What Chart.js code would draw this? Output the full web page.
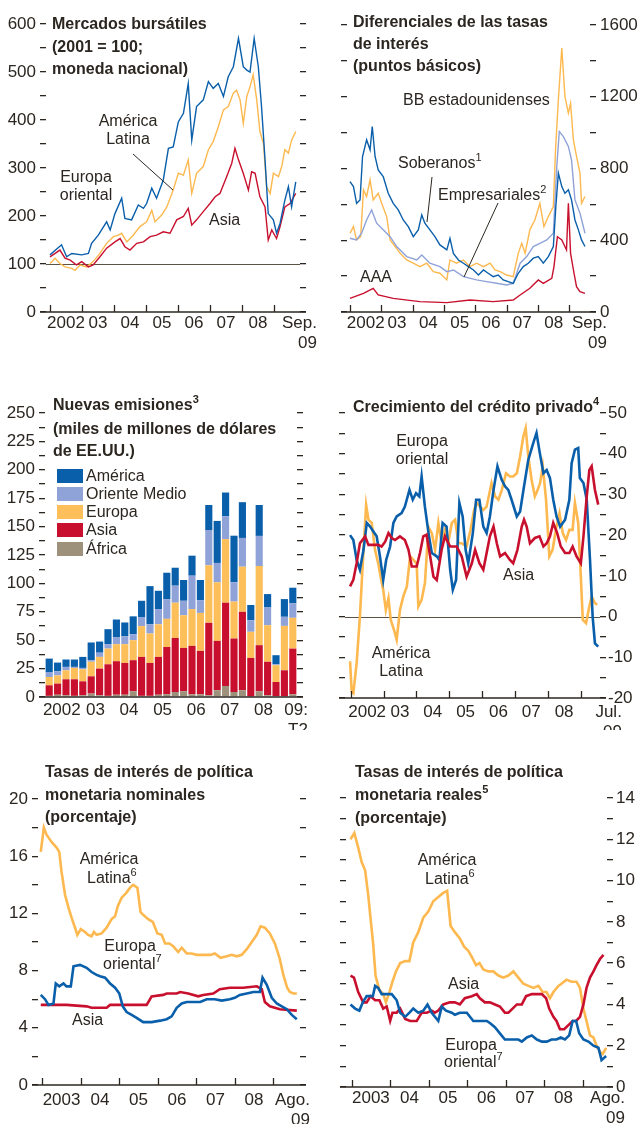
<!DOCTYPE html>
<html>
<head>
<meta charset="utf-8">
<script src="https://cdn.jsdelivr.net/npm/chart.js@4.4.1/dist/chart.umd.min.js"></script>
<style>
  body { margin: 0; background: #fff; width: 637px; height: 1124px; overflow: hidden; position: relative;
         font-family: "Liberation Sans", Arial, sans-serif; color: #2b2620; }
  canvas { position: absolute; }
  .ttl { position: absolute; white-space: nowrap; font-weight: bold; font-size: 16px; line-height: 22.5px; }
  .t { position: absolute; white-space: nowrap; font-size: 16px; line-height: 18px; }
  .c { text-align: center; transform: translateX(-50%); }
  sup { font-size: 11px; vertical-align: 0; position: relative; top: -7px; }
  .key { position: absolute; left: 57px; width: 26px; height: 14px; }
  svg { position: absolute; left: 0; top: 0; }
</style>
</head>
<body>
<canvas id="c1" width="320" height="360" style="left:0;top:0"></canvas>
<canvas id="c2" width="317" height="360" style="left:320px;top:0"></canvas>
<canvas id="c3" width="320" height="340" style="left:0;top:390px"></canvas>
<canvas id="c4" width="317" height="340" style="left:320px;top:390px"></canvas>
<canvas id="c5" width="320" height="369" style="left:0;top:755px"></canvas>
<canvas id="c6" width="317" height="369" style="left:320px;top:755px"></canvas>

<!-- titulos -->
<div class="ttl" style="left:52px;top:13px">Mercados bursátiles<br>(2001 = 100;<br>moneda nacional)</div>
<div class="ttl" style="left:353px;top:11px;line-height:22px">Diferenciales de las tasas<br>de interés<br>(puntos básicos)</div>
<div class="ttl" style="left:53px;top:394px">Nuevas emisiones<sup>3</sup><br>(miles de millones de dólares<br>de EE.UU.)</div>
<div class="ttl" style="left:353px;top:396px">Crecimiento del crédito privado<sup>4</sup></div>
<div class="ttl" style="left:45px;top:761px">Tasas de interés de política<br>monetaria nominales<br>(porcentaje)</div>
<div class="ttl" style="left:355px;top:761px">Tasas de interés de política<br>monetaria reales<sup>5</sup><br>(porcentaje)</div>

<!-- rotulos de series -->
<div class="t c" style="left:128px;top:112px">América<br>Latina</div>
<div class="t c" style="left:86px;top:168px">Europa<br>oriental</div>
<div class="t" style="left:209px;top:211px">Asia</div>

<div class="t" style="left:403px;top:91px">BB estadounidenses</div>
<div class="t" style="left:398px;top:154px">Soberanos<sup>1</sup></div>
<div class="t" style="left:438px;top:186px">Empresariales<sup>2</sup></div>
<div class="t" style="left:360px;top:268px">AAA</div>

<div class="t" style="left:86px;top:467px">América</div>
<div class="t" style="left:86px;top:485px">Oriente Medio</div>
<div class="t" style="left:86px;top:503px">Europa</div>
<div class="t" style="left:86px;top:521px">Asia</div>
<div class="t" style="left:86px;top:540px">África</div>
<div class="key" style="top:469px;background:#0a5fab"></div>
<div class="key" style="top:487px;background:#8fa3d8"></div>
<div class="key" style="top:505px;background:#fdbf5a"></div>
<div class="key" style="top:523px;background:#c8102e"></div>
<div class="key" style="top:542px;background:#9d917c"></div>

<div class="t c" style="left:422px;top:432px">Europa<br>oriental</div>
<div class="t" style="left:503px;top:566px">Asia</div>
<div class="t c" style="left:401px;top:644px">América<br>Latina</div>

<div class="t c" style="left:109px;top:850px">América</div>
<div class="t" style="left:87px;top:869px">Latina<sup>6</sup></div>
<div class="t c" style="left:130px;top:937px">Europa</div>
<div class="t" style="left:103px;top:955px">oriental<sup>7</sup></div>
<div class="t" style="left:72px;top:1011px">Asia</div>

<div class="t c" style="left:447px;top:851px">América</div>
<div class="t" style="left:425px;top:870px">Latina<sup>6</sup></div>
<div class="t" style="left:448px;top:975px">Asia</div>
<div class="t c" style="left:471px;top:1036px">Europa</div>
<div class="t" style="left:444px;top:1053px">oriental<sup>7</sup></div>

<svg width="637" height="400">
  <g stroke="#2b2620" stroke-width="1">
    <line x1="133" y1="154" x2="173" y2="190"/>
    <line x1="432" y1="177" x2="427" y2="222"/>
    <line x1="498" y1="203" x2="464" y2="277"/>
  </g>
</svg>

<script>
// ---------- datos: [fecha en años, valor] ----------
// Mercados bursátiles (2001 = 100)
const bolsaEuropa = [[2002.00,119],[2002.36,140],[2002.52,115],[2002.68,122],[2002.99,119],[2003.20,122],[2003.30,143],[2003.51,160],[2003.77,188],[2003.88,171],[2004.03,205],[2004.24,237],[2004.34,195],[2004.55,192],[2004.76,223],[2004.92,216],[2005.02,226],[2005.18,258],[2005.33,237],[2005.54,275],[2005.70,341],[2005.85,344],[2006.01,396],[2006.17,414],[2006.32,476],[2006.43,358],[2006.58,428],[2006.79,442],[2006.95,480],[2007.10,466],[2007.26,476],[2007.42,449],[2007.57,490],[2007.73,511],[2007.89,570],[2008.04,511],[2008.15,504],[2008.25,500],[2008.38,570],[2008.51,511],[2008.61,428],[2008.72,317],[2008.82,205],[2008.98,192],[2009.08,164],[2009.19,185],[2009.34,233],[2009.45,261],[2009.55,219],[2009.68,271]];
const bolsaAmerica = [[2002.00,101],[2002.16,112],[2002.31,101],[2002.47,94],[2002.68,91],[2002.78,87],[2002.94,98],[2003.15,94],[2003.35,105],[2003.56,122],[2003.77,143],[2003.98,157],[2004.14,160],[2004.24,164],[2004.40,146],[2004.60,160],[2004.81,178],[2005.02,188],[2005.18,212],[2005.28,188],[2005.49,202],[2005.65,219],[2005.85,254],[2006.01,289],[2006.17,285],[2006.32,317],[2006.43,247],[2006.58,289],[2006.79,303],[2006.95,338],[2007.10,355],[2007.26,386],[2007.42,421],[2007.57,428],[2007.73,456],[2007.83,462],[2007.94,442],[2008.04,393],[2008.15,449],[2008.25,469],[2008.35,494],[2008.46,442],[2008.56,376],[2008.67,351],[2008.77,261],[2008.88,247],[2008.98,289],[2009.14,282],[2009.24,303],[2009.34,338],[2009.45,331],[2009.55,358],[2009.68,376]];
const bolsaAsia = [[2002.00,115],[2002.16,122],[2002.31,129],[2002.47,112],[2002.63,108],[2002.83,98],[2002.99,105],[2003.20,94],[2003.35,98],[2003.56,115],[2003.77,133],[2004.03,146],[2004.19,153],[2004.34,136],[2004.50,129],[2004.71,143],[2004.92,146],[2005.13,157],[2005.33,160],[2005.54,167],[2005.75,164],[2005.96,192],[2006.17,199],[2006.32,216],[2006.43,181],[2006.58,192],[2006.79,209],[2007.00,226],[2007.16,240],[2007.31,247],[2007.52,282],[2007.68,310],[2007.78,341],[2007.89,317],[2008.04,289],[2008.20,254],[2008.30,292],[2008.41,289],[2008.56,240],[2008.72,219],[2008.82,150],[2008.93,171],[2009.08,153],[2009.19,178],[2009.34,219],[2009.50,226],[2009.68,247]];

// Diferenciales (puntos básicos)
const difSoberanos = [[2002.00,727],[2002.11,699],[2002.21,606],[2002.32,625],[2002.40,867],[2002.53,960],[2002.64,904],[2002.71,1034],[2002.80,867],[2002.90,792],[2003.06,755],[2003.22,662],[2003.38,606],[2003.54,569],[2003.70,513],[2003.86,476],[2004.02,420],[2004.18,458],[2004.29,541],[2004.39,495],[2004.55,458],[2004.71,420],[2004.87,374],[2005.09,346],[2005.19,411],[2005.30,327],[2005.46,290],[2005.62,272],[2005.78,253],[2005.94,234],[2006.10,206],[2006.26,234],[2006.41,216],[2006.57,197],[2006.73,206],[2006.89,179],[2007.05,169],[2007.21,160],[2007.37,216],[2007.53,253],[2007.69,272],[2007.85,300],[2008.01,309],[2008.17,272],[2008.33,309],[2008.49,365],[2008.57,588],[2008.65,774],[2008.76,699],[2008.86,662],[2008.97,681],[2009.07,625],[2009.18,513],[2009.29,458],[2009.39,402],[2009.50,365]];
const difBB = [[2002.00,439],[2002.11,476],[2002.21,402],[2002.34,420],[2002.43,681],[2002.53,644],[2002.64,737],[2002.74,625],[2002.90,662],[2003.01,606],[2003.17,532],[2003.28,402],[2003.44,365],[2003.60,327],[2003.81,290],[2004.02,272],[2004.23,253],[2004.45,272],[2004.66,225],[2004.87,216],[2005.09,179],[2005.19,290],[2005.40,272],[2005.62,290],[2005.83,253],[2006.04,272],[2006.26,253],[2006.47,272],[2006.63,234],[2006.79,225],[2007.00,206],[2007.21,197],[2007.37,327],[2007.48,383],[2007.59,327],[2007.74,458],[2007.90,513],[2008.06,606],[2008.19,476],[2008.33,532],[2008.49,588],[2008.56,904],[2008.65,1183],[2008.76,1471],[2008.86,1202],[2008.97,1109],[2009.04,1164],[2009.13,960],[2009.23,867],[2009.34,774],[2009.39,606],[2009.50,644]];
const difEmpresariales = [[2002.00,411],[2002.21,402],[2002.37,439],[2002.53,513],[2002.69,569],[2002.85,495],[2003.06,458],[2003.28,420],[2003.49,365],[2003.81,309],[2004.13,290],[2004.29,318],[2004.55,272],[2004.87,253],[2005.09,225],[2005.30,234],[2005.62,197],[2006.04,179],[2006.36,169],[2006.68,160],[2007.00,151],[2007.21,160],[2007.43,272],[2007.64,309],[2007.85,365],[2008.06,383],[2008.28,402],[2008.49,439],[2008.60,811],[2008.68,1006],[2008.81,978],[2008.97,923],[2009.07,848],[2009.18,625],[2009.34,551],[2009.50,439]];
const difAAA = [[2002.00,76],[2002.43,104],[2002.74,132],[2002.90,95],[2003.38,76],[2004.23,58],[2005.09,52],[2005.83,67],[2006.57,58],[2007.21,67],[2007.43,95],[2007.74,132],[2008.01,179],[2008.17,160],[2008.44,188],[2008.51,253],[2008.62,420],[2008.76,402],[2008.91,346],[2008.97,606],[2009.04,327],[2009.15,216],[2009.23,141],[2009.34,113],[2009.50,104]];

// Nuevas emisiones (miles de millones de dólares), trimestral
const trimestres = ['2002T1','2002T2','2002T3','2002T4','2003T1','2003T2','2003T3','2003T4','2004T1','2004T2','2004T3','2004T4','2005T1','2005T2','2005T3','2005T4','2006T1','2006T2','2006T3','2006T4','2007T1','2007T2','2007T3','2007T4','2008T1','2008T2','2008T3','2008T4','2009T1','2009T2'];
const emiAfrica = [1,2,1.5,1,1.5,3,1.5,1,2,2,5,1,1,2,2.5,4.4,5,2.4,2.4,1.5,6,9.7,4.4,6,0.5,5,1.5,0.9,0.6,2.4];
const emiAsia = [9.3,9.8,14.1,14.6,12.3,15.2,23.5,27.8,29.5,28,27.4,34.3,29,33.3,41.5,47.6,38.2,42.6,38.2,63.8,43.4,73.3,47.1,69,33.9,40.6,29.5,12.3,22.9,40.2];
const emiEuropa = [7.3,7.2,7.9,10,10.6,12.8,10.3,13.8,15,16.5,17.6,27.1,25.9,28.7,24.8,31,28.8,32.4,33.4,50.7,51.6,56,32.5,39.7,23,69.7,32.2,14.8,39.1,27.1];
const emiOrienteMedio = [4.4,3.6,3,0.9,1.2,1.4,3.7,3.9,5.9,7,5.3,7.6,8.1,13.4,17.4,15,12.7,29.4,11.3,31,17,20,17,25.3,10.2,26.5,15.6,0.8,8,12.7];
const emiAmerica = [11.8,7.7,6.5,6.5,9.7,15.6,9.8,13.2,15.8,12.1,15.7,14.7,33.6,16.1,23.2,15.8,18.3,17.6,17.7,22,37,21,41,31.5,13.4,27.2,11.8,8,15.6,13.8];

// Crecimiento del crédito privado (%)
const credAmerica = [[2001.98,-11],[2002.03,-18.4],[2002.08,-18.8],[2002.18,-11.5],[2002.28,0],[2002.34,9],[2002.39,16.4],[2002.47,27.4],[2002.54,23.8],[2002.64,23],[2002.74,16.4],[2002.84,13],[2002.91,9.8],[2002.99,6.6],[2003.07,1.6],[2003.15,4.5],[2003.22,-0.8],[2003.32,-3.3],[2003.40,-5.7],[2003.50,1.6],[2003.60,4.9],[2003.71,7.4],[2003.81,14.8],[2003.91,13.9],[2004.01,13],[2004.06,2.5],[2004.16,4.1],[2004.26,8.2],[2004.37,22],[2004.47,20.5],[2004.57,16.4],[2004.67,23],[2004.77,18],[2004.87,21.3],[2004.97,18],[2005.08,23],[2005.18,23.8],[2005.28,18],[2005.38,18],[2005.53,17.2],[2005.65,21.3],[2005.76,26.2],[2005.84,27.9],[2005.94,27],[2006.04,26.2],[2006.14,27],[2006.29,32.8],[2006.40,29.5],[2006.50,28.7],[2006.60,31],[2006.73,35.2],[2006.85,34.4],[2006.95,34.4],[2007.06,35.2],[2007.16,39.3],[2007.26,44.3],[2007.33,46.3],[2007.41,39.3],[2007.51,33.6],[2007.61,29.5],[2007.69,31],[2007.77,32.8],[2007.85,36.9],[2007.95,28.7],[2008.05,14.8],[2008.15,16.4],[2008.25,21.3],[2008.36,25.4],[2008.46,20.5],[2008.56,18.8],[2008.66,21.3],[2008.76,21.3],[2008.83,27.9],[2008.93,23],[2009.01,9.8],[2009.07,-0.8],[2009.17,-1.6],[2009.27,2.5],[2009.34,4.9],[2009.44,3.3],[2009.51,2.9]];
const credEuropa = [[2001.98,20],[2002.08,18.8],[2002.18,13.9],[2002.28,11.5],[2002.39,16.4],[2002.49,23],[2002.59,22.1],[2002.69,20.9],[2002.79,19.7],[2002.89,14.8],[2002.99,9],[2003.08,13.9],[2003.20,17.2],[2003.30,23],[2003.40,24.6],[2003.55,25.4],[2003.65,27],[2003.79,31.1],[2003.89,28.7],[2003.99,30.3],[2004.09,29.5],[2004.16,34.4],[2004.26,27],[2004.37,20.5],[2004.47,15.6],[2004.62,14.8],[2004.70,13.9],[2004.80,23],[2004.92,22.1],[2005.03,11.5],[2005.11,6.6],[2005.21,9],[2005.31,27.9],[2005.41,24.6],[2005.50,16.4],[2005.58,13.1],[2005.72,20.5],[2005.82,28.7],[2005.92,28.7],[2006.04,22.1],[2006.14,20.5],[2006.24,24.6],[2006.35,31.1],[2006.47,36.9],[2006.60,33.6],[2006.70,32],[2006.80,31.1],[2006.90,28.7],[2007.06,24.6],[2007.16,25.8],[2007.28,32],[2007.41,38.5],[2007.56,42.6],[2007.66,45.1],[2007.76,40.2],[2007.87,35.2],[2007.97,36],[2008.07,34],[2008.17,28.7],[2008.27,24.6],[2008.38,22.1],[2008.53,23.8],[2008.66,28.7],[2008.73,37.7],[2008.83,41],[2008.93,41.4],[2008.98,34],[2009.09,32.8],[2009.19,28.7],[2009.29,13.9],[2009.37,0],[2009.44,-6.6],[2009.54,-7.4]];
const credAsia = [[2001.98,7.4],[2002.08,9],[2002.18,13.1],[2002.28,18],[2002.44,19.7],[2002.54,17.6],[2002.84,17.6],[2002.94,17.2],[2003.05,18.4],[2003.15,20.5],[2003.25,19.3],[2003.35,18.8],[2003.50,19.7],[2003.65,18.8],[2003.76,16.4],[2003.86,12.3],[2004.01,12.3],[2004.11,15.6],[2004.21,19.7],[2004.31,20.1],[2004.42,14.8],[2004.52,9.8],[2004.62,9],[2004.77,16.4],[2004.87,19.7],[2005.03,17.2],[2005.23,17.2],[2005.38,14.8],[2005.53,9.8],[2005.69,13.1],[2005.79,16.4],[2005.92,13.1],[2006.04,11.5],[2006.14,15.6],[2006.24,19.7],[2006.35,22.1],[2006.45,18],[2006.55,14.8],[2006.70,15.6],[2006.85,13.9],[2006.95,13.1],[2007.08,16.4],[2007.21,22.1],[2007.28,23.8],[2007.36,22.1],[2007.46,18],[2007.61,19.3],[2007.75,19.7],[2007.87,17.2],[2007.97,18],[2008.07,19.7],[2008.17,23],[2008.29,20.5],[2008.40,17.2],[2008.53,15.6],[2008.66,15.6],[2008.76,17.2],[2008.88,14.8],[2009.01,13.1],[2009.09,19.7],[2009.19,29.5],[2009.27,36],[2009.34,36.9],[2009.44,31.1],[2009.54,27.5]];

// Tasas de política monetaria nominales (%)
const nomAmerica = [[2002.96,16.3],[2003.04,18],[2003.11,17.5],[2003.24,17],[2003.37,16.6],[2003.44,16.3],[2003.50,14.9],[2003.59,13.3],[2003.68,12.4],[2003.76,11.7],[2003.85,11],[2003.91,10.5],[2004.00,10.9],[2004.11,10.7],[2004.19,10.5],[2004.28,10.4],[2004.34,10.7],[2004.41,10.5],[2004.54,10.6],[2004.67,11],[2004.80,11.6],[2004.89,11.8],[2004.96,12.5],[2005.06,13.1],[2005.17,13.4],[2005.28,13.8],[2005.36,14],[2005.47,13.8],[2005.55,12.1],[2005.62,11.9],[2005.75,11.6],[2005.87,11.4],[2005.99,10.6],[2006.10,10.5],[2006.19,9.9],[2006.30,9.9],[2006.40,9.7],[2006.53,9.3],[2006.62,9.6],[2006.75,9.2],[2006.88,9.2],[2007.01,9.1],[2007.18,9.1],[2007.36,9.1],[2007.48,9.2],[2007.63,8.9],[2007.79,9],[2007.92,9.1],[2008.05,9],[2008.18,9.1],[2008.31,9.5],[2008.44,10],[2008.57,10.5],[2008.67,11.1],[2008.78,11],[2008.91,10.6],[2009.04,9.9],[2009.16,8.9],[2009.26,7.7],[2009.36,6.8],[2009.43,6.5],[2009.52,6.4],[2009.61,6.4]];
const nomEuropa = [[2002.96,6.3],[2003.07,6],[2003.16,5.6],[2003.29,5.7],[2003.35,7.1],[2003.44,6.9],[2003.55,7.1],[2003.63,6.9],[2003.74,6.9],[2003.81,8.3],[2003.98,8.4],[2004.15,8.2],[2004.28,7.9],[2004.41,7.7],[2004.50,7.6],[2004.63,7.5],[2004.76,7.1],[2004.89,6.8],[2005.00,6.4],[2005.09,5.5],[2005.19,5.1],[2005.32,4.9],[2005.45,4.7],[2005.62,4.4],[2005.84,4.4],[2006.06,4.5],[2006.23,4.6],[2006.36,4.8],[2006.49,5.4],[2006.62,5.7],[2006.75,5.8],[2006.92,5.8],[2007.10,5.8],[2007.27,6],[2007.48,6],[2007.66,5.9],[2007.87,6],[2008.00,6.1],[2008.13,6.3],[2008.31,6.4],[2008.48,6.5],[2008.65,6.5],[2008.72,7.5],[2008.83,7],[2008.96,6.1],[2009.09,5.7],[2009.22,5.5],[2009.35,5.3],[2009.48,4.9],[2009.61,4.6]];
const nomAsia = [[2002.96,5.6],[2003.63,5.6],[2004.15,5.5],[2004.28,5.4],[2004.67,5.4],[2004.76,5.6],[2005.71,5.6],[2005.84,6.2],[2006.14,6.3],[2006.23,6.4],[2006.49,6.4],[2006.58,6.5],[2006.79,6.4],[2007.05,6.2],[2007.18,6.3],[2007.44,6.4],[2007.61,6.7],[2007.87,6.8],[2008.22,6.8],[2008.57,6.9],[2008.70,6.7],[2008.78,5.8],[2008.91,5.5],[2009.17,5.3],[2009.61,5.2]];

// Tasas de política monetaria reales (%)
const realAmerica = [[2002.97,12],[2003.07,12.3],[2003.17,11.6],[2003.26,10.9],[2003.35,10.5],[2003.43,9.3],[2003.50,8],[2003.56,6.9],[2003.62,5.4],[2003.72,4.7],[2003.82,4.5],[2003.89,4.1],[2003.98,4.6],[2004.06,5.1],[2004.15,5.6],[2004.26,6],[2004.39,6.1],[2004.50,6.1],[2004.60,7],[2004.73,7.5],[2004.86,8.2],[2004.99,8.5],[2005.12,9],[2005.25,9.2],[2005.38,9.4],[2005.48,9.5],[2005.57,7.8],[2005.68,7.5],[2005.81,7.2],[2005.92,6.8],[2006.03,6.6],[2006.12,6.3],[2006.23,5.9],[2006.32,6],[2006.42,5.7],[2006.55,5.6],[2006.68,5.6],[2006.81,5.4],[2006.94,5.3],[2007.07,5.4],[2007.20,5.6],[2007.33,5.3],[2007.46,5],[2007.59,4.9],[2007.72,4.8],[2007.85,4.9],[2007.96,4.6],[2008.06,4.6],[2008.15,4.3],[2008.24,4.6],[2008.37,4.9],[2008.45,5],[2008.58,5.2],[2008.71,5.1],[2008.84,5.1],[2008.93,4.8],[2009.02,3.8],[2009.10,3.2],[2009.19,2.5],[2009.28,2.4],[2009.36,2],[2009.45,1.7],[2009.52,1.6],[2009.61,1.9]];
const realAsia = [[2002.97,5.4],[2003.06,5.3],[2003.17,4.6],[2003.30,4.1],[2003.39,4.1],[2003.49,4.4],[2003.61,4.2],[2003.72,4.2],[2003.82,3.8],[2003.91,3.9],[2004.00,3.2],[2004.06,3.6],[2004.17,3.6],[2004.26,3.8],[2004.39,3.3],[2004.52,3.2],[2004.69,3.2],[2004.82,3.6],[2004.95,3.6],[2005.08,3.7],[2005.16,3.6],[2005.25,3.7],[2005.38,4],[2005.55,4.1],[2005.68,4.1],[2005.81,4],[2005.94,4.3],[2006.12,4.4],[2006.25,4.5],[2006.33,4.3],[2006.46,4.1],[2006.59,4.1],[2006.72,4],[2006.85,3.9],[2006.98,3.6],[2007.07,3.6],[2007.18,3.8],[2007.29,4],[2007.42,4],[2007.53,4.4],[2007.68,4.5],[2007.81,4.5],[2007.94,4.5],[2008.05,4.3],[2008.13,3.8],[2008.24,3.4],[2008.32,3.2],[2008.41,2.8],[2008.52,2.8],[2008.63,3],[2008.74,3.2],[2008.83,3.2],[2008.93,3.4],[2009.02,4],[2009.10,4.8],[2009.19,5.3],[2009.28,5.6],[2009.36,5.9],[2009.45,6.2],[2009.54,6.4]];
const realEuropa = [[2002.97,4],[2003.09,3.8],[2003.20,3.7],[2003.29,4.1],[2003.39,4.4],[2003.55,4.4],[2003.61,4.9],[2003.69,4.8],[2003.78,4.5],[2003.91,4.5],[2004.04,4.5],[2004.17,4.2],[2004.26,3.6],[2004.39,3.4],[2004.50,3.6],[2004.60,3.8],[2004.73,3.6],[2004.86,3.7],[2004.97,4],[2005.08,3.6],[2005.25,3.2],[2005.34,3.9],[2005.45,3.7],[2005.60,3.6],[2005.68,3.5],[2005.81,3.6],[2005.99,3.6],[2006.16,3.2],[2006.33,3.2],[2006.51,3.2],[2006.59,3.1],[2006.72,2.9],[2006.85,2.6],[2006.98,2.3],[2007.16,2.3],[2007.33,2.3],[2007.42,2.2],[2007.55,2.4],[2007.68,2.5],[2007.81,2.3],[2007.94,2.2],[2008.07,2.2],[2008.19,2.3],[2008.32,2.3],[2008.43,2.4],[2008.54,2.3],[2008.65,2.5],[2008.74,3.2],[2008.83,3.2],[2008.91,2.6],[2009.02,2.3],[2009.15,2.2],[2009.28,2],[2009.41,1.9],[2009.49,1.3],[2009.61,1.5]];

// ---------- ejes ----------
const ticksBolsa = [0,50,100,150,200,250,300,350,400,450,500,550,600];
const ticksDif = [0,200,400,600,800,1000,1200,1400,1600];
const ticksEmi = [0,12.5,25,37.5,50,62.5,75,87.5,100,112.5,125,137.5,150,162.5,175,187.5,200,212.5,225,237.5,250];
const ticksCred = [-20,-15,-10,-5,0,5,10,15,20,25,30,35,40,45,50];
const ticksNom = [0,2,4,6,8,10,12,14,16,18,20];
const ticksReal = [0,1,2,3,4,5,6,7,8,9,10,11,12,13,14];
const aniosDesde2002 = ['2002','03','04','05','06','07','08'];
const aniosDesde2003 = ['2003','04','05','06','07','08'];

const ink = '#2b2620';
const azul = '#0a5fab', naranja = '#fdb94f', rojo = '#c8102e', celeste = '#8fa3d8', gris = '#9d917c';
Chart.defaults.font.family = '"Liberation Sans", Arial, sans-serif';
Chart.defaults.color = ink;

const line = (pairs, color, w) => ({
  data: pairs.map(([x, y]) => ({x, y})),
  borderColor: color, borderWidth: w, pointRadius: 0, fill: false, tension: 0
});
const bars = (values, color, label) => ({label, data: values, backgroundColor: color, barPercentage: 0.85, categoryPercentage: 1});

function yearLabels(names, first, last) {
  const out = names.map((s, i) => ({v: first + i + 0.5, t: [s]}));
  out.push(last);
  return out;
}

function yAxis(pos, p, labelled) {
  return {
    position: pos,
    min: p.ticks[0], max: p.ticks[p.ticks.length - 1],
    stacked: !!p.stacked && pos === 'left',
    afterFit(s) { s.width = pos === 'left' ? p.left : p.right; },
    afterBuildTicks(s) { s.ticks = p.ticks.map(v => ({value: v})); },
    border: {display: false},
    grid: {drawOnChartArea: false, tickLength: 6, color: ink, lineWidth: 1.3},
    ticks: {
      autoSkip: false, padding: p.pad ?? 4, color: ink, font: {size: 17},
      callback: v => (labelled && Math.abs(v % p.every) < 1e-6) ? String(v) : ''
    }
  };
}

// linea de eje, marcas de años y rotulos debajo
function frame(p) {
  return {
    id: 'frame',
    beforeDatasetsDraw(c) {
      if (p.refLine == null) return;
      const a = c.chartArea, y = Math.round(c.scales.y.getPixelForValue(p.refLine)) + 0.5;
      c.ctx.save();
      c.ctx.strokeStyle = '#5c5344'; c.ctx.lineWidth = 1.2;
      c.ctx.beginPath(); c.ctx.moveTo(a.left, y); c.ctx.lineTo(a.right, y); c.ctx.stroke();
      c.ctx.restore();
    },
    afterDraw(c) {
      const ctx = c.ctx, a = c.chartArea, xs = c.scales.x;
      ctx.save();
      ctx.strokeStyle = ink; ctx.lineWidth = 1.5;
      ctx.beginPath(); ctx.moveTo(a.left - 6, a.bottom); ctx.lineTo(a.right + 6, a.bottom); ctx.stroke();
      ctx.lineWidth = 1.3;
      (p.yearTicks || []).forEach(v => {
        const x = Math.round(xs.getPixelForValue(v)) + 0.5;
        ctx.beginPath(); ctx.moveTo(x, a.bottom); ctx.lineTo(x, a.bottom - 7); ctx.stroke();
      });
      ctx.fillStyle = ink; ctx.font = '17px "Liberation Sans", Arial, sans-serif'; ctx.textBaseline = 'middle';
      p.labels.forEach(l => {
        const x = xs.getPixelForValue(l.v);
        ctx.textAlign = l.right ? 'right' : 'center';
        l.t.forEach((s, i) => ctx.fillText(s, x, a.bottom + p.dy + i * 20));
      });
      ctx.restore();
    }
  };
}

function panel(id, p) {
  const bar = p.type === 'bar';
  return new Chart(document.getElementById(id), {
    type: bar ? 'bar' : 'line',
    data: {labels: p.categories, datasets: p.datasets},
    options: {
      responsive: false, animation: false, events: [],
      layout: {padding: {top: p.top, bottom: p.bottom, left: 0, right: 0}},
      plugins: {legend: {display: false}, tooltip: {enabled: false}},
      scales: {
        x: bar ? {type: 'category', display: false, stacked: true}
               : {type: 'linear', display: false, min: p.xmin, max: p.xmax},
        y: yAxis('left', p, p.side === 'left'),
        y2: yAxis('right', p, p.side === 'right')
      }
    },
    plugins: [frame(p)]
  });
}

panel('c1', {
  ticks: ticksBolsa, every: 100, side: 'left', left: 46, right: 20, top: 24, bottom: 48,
  xmin: 2001.875, xmax: 2009.8125, refLine: 100, dy: 11,
  yearTicks: [2002, 2003, 2004, 2005, 2006, 2007, 2008, 2009],
  labels: yearLabels(aniosDesde2002, 2002, {v: 2010.34, t: ['Sep.', '09'], right: true}),
  datasets: [line(bolsaEuropa, azul, 1.4), line(bolsaAsia, rojo, 1.4), line(bolsaAmerica, naranja, 1.4)]
});

panel('c2', {
  ticks: ticksDif, every: 400, side: 'right', left: 27, right: 47, top: 25, bottom: 48, pad: 4,
  xmin: 2001.904, xmax: 2009.66, dy: 11,
  yearTicks: [2002, 2003, 2004, 2005, 2006, 2007, 2008, 2009],
  labels: yearLabels(aniosDesde2002, 2002, {v: 2010.2, t: ['Sep.', '09'], right: true}),
  datasets: [line(difAAA, rojo, 1.4), line(difSoberanos, azul, 1.4), line(difEmpresariales, celeste, 1.4), line(difBB, naranja, 1.4)]
});

panel('c3', {
  type: 'bar', stacked: true, categories: trimestres,
  ticks: ticksEmi, every: 25, side: 'left', left: 45, right: 23, top: 23, bottom: 33, dy: 13,
  labels: aniosDesde2002.map((s, i) => ({v: 1.5 + 4 * i, t: [s]})).concat([{v: 30.8, t: ['09:', 'T2'], right: true}]),
  datasets: [bars(emiAfrica, gris, 'África'), bars(emiAsia, rojo, 'Asia'), bars(emiEuropa, '#fdbf5a', 'Europa'),
             bars(emiOrienteMedio, celeste, 'Oriente Medio'), bars(emiAmerica, azul, 'América')]
});

panel('c4', {
  ticks: ticksCred, every: 10, side: 'right', left: 25, right: 37, top: 23, bottom: 32, pad: 2,
  xmin: 2001.826, xmax: 2009.594, refLine: 0, dy: 14,
  yearTicks: [2002, 2003, 2004, 2005, 2006, 2007, 2008, 2009],
  labels: yearLabels(aniosDesde2002, 2002, {v: 2010.26, t: ['Jul.', '09'], right: true}),
  datasets: [line(credAsia, rojo, 2.6), line(credEuropa, azul, 2.6), line(credAmerica, naranja, 2.6)]
});

panel('c5', {
  ticks: ticksNom, every: 4, side: 'left', left: 38, right: 20, top: 44, bottom: 39,
  xmin: 2002.888, xmax: 2009.693, dy: 15,
  yearTicks: [2003, 2004, 2005, 2006, 2007, 2008, 2009],
  labels: yearLabels(aniosDesde2003, 2003, {v: 2009.95, t: ['Ago.', '09'], right: true}),
  datasets: [line(nomEuropa, azul, 2.6), line(nomAsia, rojo, 2.6), line(nomAmerica, naranja, 2.6)]
});

panel('c6', {
  ticks: ticksReal, every: 2, side: 'right', left: 26, right: 30, top: 43, bottom: 37, pad: 3,
  xmin: 2002.853, xmax: 2009.632, dy: 11,
  yearTicks: [2003, 2004, 2005, 2006, 2007, 2008, 2009],
  labels: yearLabels(aniosDesde2003, 2003, {v: 2010.1, t: ['Ago.', '09'], right: true}),
  datasets: [line(realEuropa, azul, 2.6), line(realAsia, rojo, 2.6), line(realAmerica, naranja, 2.6)]
});
</script>
</body>
</html>
